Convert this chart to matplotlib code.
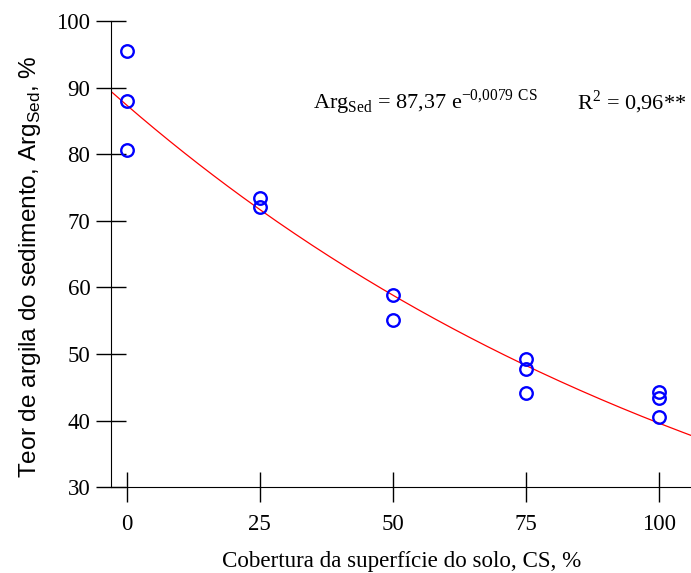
import numpy as np
import matplotlib
matplotlib.use('Agg')
from matplotlib import pyplot as plt

# dados
cs = [0, 0, 0, 25, 25, 50, 50, 75, 75, 75, 100, 100, 100]
arg_sed = [95.5, 88.0, 80.6, 73.5, 72.1, 58.8, 55.1, 49.3, 47.8, 44.2, 44.3, 43.4, 40.5]
coef_a = 87.37
coef_b = -0.0079
xticks = [0, 25, 50, 75, 100]
yticks = [30, 40, 50, 60, 70, 80, 90, 100]

plt.rcParams['font.family'] = 'Liberation Serif'
plt.rcParams['mathtext.fontset'] = 'custom'
plt.rcParams['mathtext.rm'] = 'Liberation Serif'
plt.rcParams['mathtext.sf'] = 'Liberation Sans'

fig = plt.figure(figsize=(6.91, 5.73), dpi=100)
ax = fig.add_axes([0.161, 0.1496, 0.839, 0.8138])

xmin, xmax = -2.9, 106.1
xx = np.linspace(xmin, xmax, 200)
ax.plot(xx, coef_a*np.exp(coef_b*xx), color='red', lw=0.9)
ax.plot(cs, arg_sed, 'o', mfc='none', mec='blue', ms=9, mew=1.7)

ax.set_xlim(xmin, xmax)
ax.set_ylim(30, 100)
ax.set_xticks(xticks)
ax.set_yticks(yticks)
ax.spines['top'].set_visible(False)
ax.spines['right'].set_visible(False)
ax.tick_params(direction='inout', length=22, width=1, labelsize=16.5)
ax.tick_params(axis='x', pad=8)
ax.tick_params(axis='y', pad=4)

ax.set_xlabel('Cobertura da superfície do solo, CS, %', fontsize=16.6, labelpad=12)
ax.set_ylabel(r'Teor de argila do sedimento, Arg$_{\mathsf{Sed}}$, %',
              fontsize=17.6, family='Liberation Sans')
ax.yaxis.set_label_coords(-0.117, 0.472)

ax.text(0.348, 0.825, r'Arg$_{\mathrm{Sed}}$ = 87,37 e$^{\mathrm{-0{,}0079\ CS}}$',
        transform=ax.transAxes, fontsize=16, va='center')
ax.text(0.803, 0.825, r'R$^{\mathrm{2}}$ = 0,96**',
        transform=ax.transAxes, fontsize=16, va='center')

fig.savefig('out.png', dpi=100)
